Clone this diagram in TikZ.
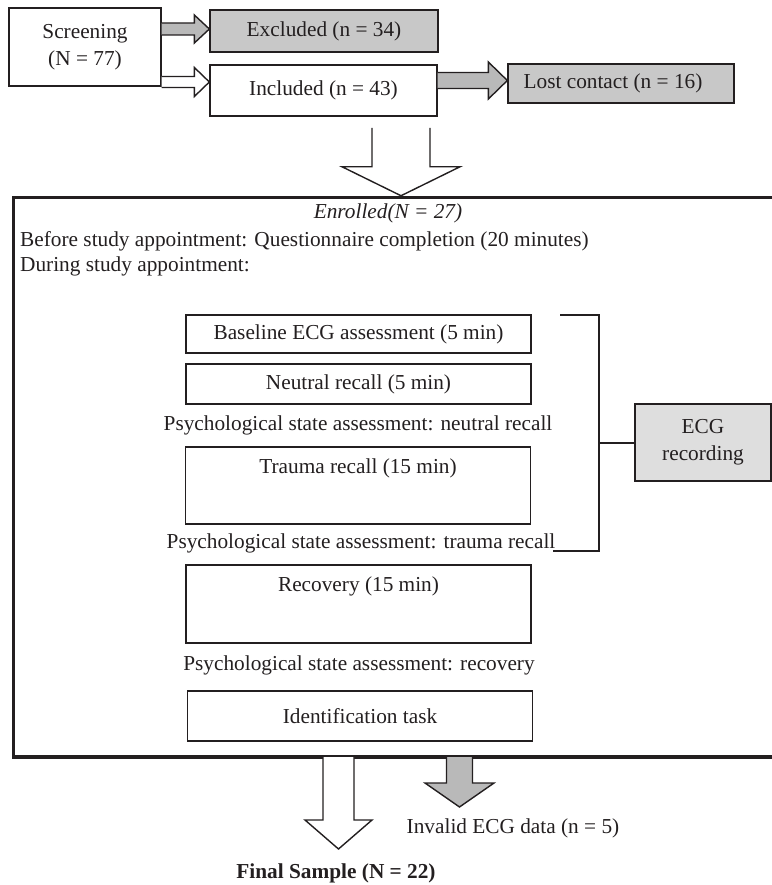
\documentclass[tikz,border=0pt]{standalone}
\usepackage{fontspec}
\setmainfont{Liberation Serif}
\usetikzlibrary{calc}
\definecolor{boxgray}{RGB}{200,200,200}
\definecolor{ecggray}{RGB}{222,222,222}
\definecolor{arrgray}{RGB}{185,185,185}
\definecolor{ink}{RGB}{35,31,32}
\newcommand\harrow[6][]{%
  \draw[blockarrow,#1] let \p1=(#2), \p2=(#3) in
  (\x1,\y1+#4) -- (\x2-#6,\y1+#4) -- (\x2-#6,\y1+#5) -- (\x2,\y1)
  -- (\x2-#6,\y1-#5) -- (\x2-#6,\y1-#4) -- (\x1,\y1-#4);}
\newcommand\varrow[6][]{%
  \draw[blockarrow,#1] let \p1=(#2), \p2=(#3) in
  (\x2-#4,\y1) -- (\x2-#4,\y2+#6) -- (\x2-#5,\y2+#6) -- (\x2,\y2)
  -- (\x2+#5,\y2+#6) -- (\x2+#4,\y2+#6) -- (\x2+#4,\y1);}
\begin{document}
\begin{tikzpicture}[x=1pt,y=-1pt,
  font=\fontsize{21.3}{27}\selectfont, text=ink,
  box/.style={draw=ink, line width=1.3pt, inner sep=0pt, fill=white},
  graybox/.style={box, fill=boxgray},
  ecgbox/.style={box, fill=ecggray},
  mainbox/.style={draw=ink, line width=3.5pt, inner sep=0pt},
  blockarrow/.style={draw=ink, line width=1.4pt, line join=miter, fill=white},
  plain/.style={inner sep=0pt},
  bracket/.style={draw=ink, line width=2pt}]
\useasboundingbox (0,0) rectangle (771,885);

% top boxes
\node[box, minimum width=152, minimum height=78, align=center] (screen) at (85,47) {Screening\\(N = 77)};
\node[graybox, minimum width=228, minimum height=42] (excl) at (324,31) {Excluded (n = 34)};
\node[box, minimum width=227, minimum height=51] (incl) at (323.5,90.5) {Included (n = 43)};
\node[graybox, minimum width=226, minimum height=39,
      label={[xshift=-8pt]center:Lost contact (n = 16)}] (lost) at (621,83.5) {};

% main enrolled box
\node[mainbox, minimum width=786.5, minimum height=559.5] (main) at (406.75,477.25) {};
\node[plain] (enr) at (388,213) {\itshape Enrolled(N = 27)};
\node[plain, anchor=west] (before) at (20,241) {Before study appointment: Questionnaire completion (20 minutes)};
\node[plain, anchor=west] (during) at (20,266) {During study appointment:};

% inner boxes
\node[box, minimum width=345, minimum height=38] (base) at (358.5,334) {Baseline ECG assessment (5 min)};
\node[box, minimum width=345, minimum height=40] (neut) at (358.5,384) {Neutral recall (5 min)};
\node[plain] (psyn) at (358,425) {Psychological state assessment: neutral recall};
\node[box, minimum width=345, minimum height=77,
      label={[anchor=center, yshift=-22pt]north:Trauma recall (15 min)}] (trau) at (358,485.5) {};
\node[plain] (psyt) at (361,543) {Psychological state assessment: trauma recall};
\node[box, minimum width=345, minimum height=78,
      label={[anchor=center, yshift=-22pt]north:Recovery (15 min)}] (reco) at (358.5,604) {};
\node[plain] (psyr) at (359,665) {Psychological state assessment: recovery};
\node[box, minimum width=345, minimum height=50] (ident) at (360,716) {Identification task};

% ECG recording bracket
\node[ecgbox, minimum width=136, minimum height=77, align=center] (ecg) at (703,442.5) {ECG\\recording};
\coordinate (brtop) at (560,315);
\coordinate (brbot) at (553,551);
\coordinate (brmid) at (599,442.5);
\draw[bracket] (brtop) -- (599,315) -- (599,551) -- (brbot);
\draw[bracket] (brmid) -- (ecg.west);

% bottom labels
\node[plain] (invalid) at (513,828) {Invalid ECG data (n = 5)};
\node[plain] (final) at (336,873) {\bfseries Final Sample (N = 22)};

% block arrows
\harrow[fill=arrgray]{$(screen.east |- excl.west)+(0,-2)$}{$(excl.west)+(0,-2)$}{6pt}{14pt}{15pt}
\harrow{$(screen.east |- incl.west)+(0,-8.5)$}{$(incl.west)+(0,-8.5)$}{5.5pt}{14.5pt}{15pt}
\harrow[fill=arrgray]{$(incl.east)+(0,-10)$}{$(lost.west |- incl.east)+(0,-10)$}{8pt}{18.5pt}{19pt}

\coordinate (bigtop) at (401,128);
\varrow{bigtop}{bigtop |- main.north}{29pt}{59pt}{29pt}

\coordinate (ftop) at (338.5,757);
\coordinate (ftip) at (338.5,849);
\varrow{ftop}{ftip}{15.5pt}{33.5pt}{29pt}

\coordinate (itop) at (459.5,757);
\coordinate (itip) at (459.5,807);
\varrow[fill=arrgray]{itop}{itip}{13pt}{34.5pt}{24pt}
\end{tikzpicture}
\end{document}
